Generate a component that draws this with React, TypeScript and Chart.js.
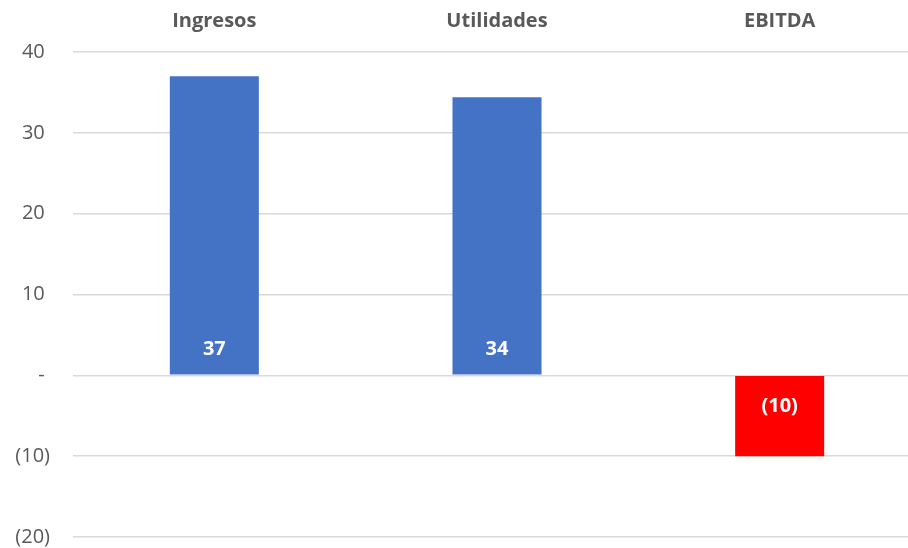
import React, { useEffect, useRef } from "react";
import { Chart, registerables } from "chart.js";

Chart.register(...registerables);

const categories = ["Ingresos", "Utilidades", "EBITDA"];
const values = [37, 34.4, -10];
const barColors = ["#4472C4", "#4472C4", "#FF0000"];
const yMin = -20;
const yMax = 40;
const yStep = 10;

const FONT = "'Open Sans', 'Liberation Sans', sans-serif";
const GRAY = "#595959";

function fmt(v: number): string {
  const r = Math.round(v);
  if (r === 0) return "- ";
  if (r < 0) return `(${Math.abs(r)})`;
  return `${r} `;
}

const dataLabelPlugin = {
  id: "dataLabels",
  afterDatasetsDraw(chart: any) {
    const ctx = chart.ctx;
    const meta = chart.getDatasetMeta(0);
    ctx.save();
    ctx.font = `bold 20px ${FONT}`;
    ctx.fillStyle = "#FFFFFF";
    ctx.textAlign = "center";
    ctx.textBaseline = "middle";
    meta.data.forEach((bar: any, i: number) => {
      const v = values[i];
      const y = v >= 0 ? bar.base - 25 : bar.base + 30;
      ctx.fillText(fmt(v).trim(), bar.x, y);
    });
    ctx.restore();
  },
};

export default function App() {
  const ref = useRef<HTMLCanvasElement | null>(null);

  useEffect(() => {
    document.body.style.margin = "0";
    document.body.style.overflow = "hidden";
    if (!ref.current) return;
    const chart = new Chart(ref.current, {
      type: "bar",
      data: {
        labels: categories,
        datasets: [
          {
            data: values,
            backgroundColor: barColors,
            borderWidth: 0,
            barPercentage: 1,
            categoryPercentage: 0.315,
          },
        ],
      },
      options: {
        responsive: false,
        animation: false,
        layout: { padding: { top: 0, bottom: 11, left: 0, right: 0 } },
        plugins: {
          legend: { display: false },
          tooltip: { enabled: false },
        },
        scales: {
          x: {
            position: "top",
            grid: { display: false, drawTicks: false },
            border: { display: false },
            ticks: {
              color: GRAY,
              font: { family: FONT, size: 20, weight: "bold", lineHeight: 1.2 },
              padding: 19,
              maxRotation: 0,
            },
            afterFit: (scale: any) => {
              scale.height = 52;
              scale.paddingLeft = 0;
              scale.paddingRight = 0;
            },
          },
          y: {
            min: yMin,
            max: yMax,
            grid: { color: "#d9d9d9", lineWidth: 1.5, drawTicks: false },
            border: { display: false },
            ticks: {
              stepSize: yStep,
              color: GRAY,
              font: { family: FONT, size: 20, lineHeight: 1.0 },
              padding: 23,
              callback: (v: any) => fmt(Number(v)),
            },
            afterFit: (scale: any) => {
              scale.width = 73;
              scale.paddingTop = 0;
              scale.paddingBottom = 0;
            },
          },
        },
      },
      plugins: [dataLabelPlugin],
    });
    return () => chart.destroy();
  }, []);

  return (
    <div style={{ position: "absolute", left: 0, top: 0, width: 908, height: 548, overflow: "hidden", background: "#fff" }}>
      <canvas ref={ref} width={921} height={548} style={{ display: "block" }} />
    </div>
  );
}
